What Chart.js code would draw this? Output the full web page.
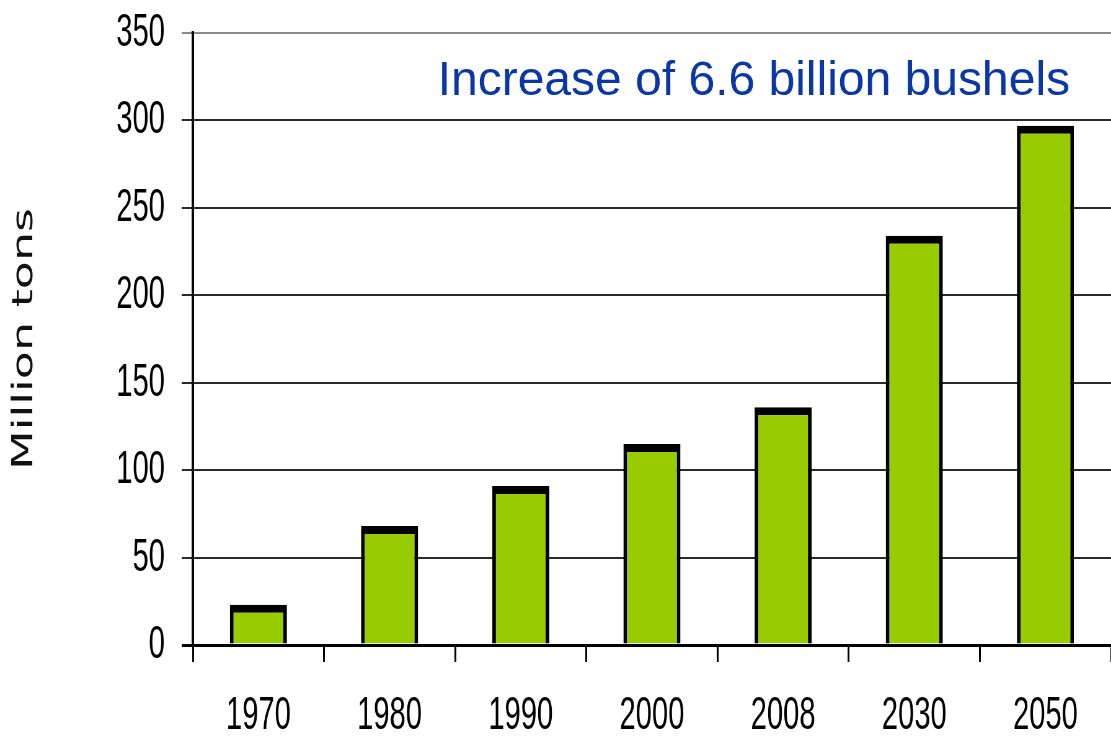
<!DOCTYPE html>
<html>
<head>
<meta charset="utf-8">
<script src="https://cdn.jsdelivr.net/npm/chart.js@4.4.1/dist/chart.umd.min.js"></script>
<style>
  html, body { margin: 0; padding: 0; overflow: hidden; background: #fff; }
  /* the whole plot is drawn wide and then squeezed horizontally */
  #wrap { width: 1792px; height: 739px; transform: scaleX(0.62); transform-origin: 0 0; }
</style>
</head>
<body>
<div id="wrap"><canvas id="myChart"></canvas></div>
<script>
const years = ['1970', '1980', '1990', '2000', '2008', '2030', '2050'];
const tons = [23, 68, 91, 115, 136, 234, 297];
const yTicks = [0, 50, 100, 150, 200, 250, 300, 350];
const axisTitle = 'Million tons';
const headline = 'Increase of 6.6 billion bushels';

const squeeze = 0.62;
const ctx = document.getElementById('myChart');

// blue note in the top right corner, drawn un-squeezed
const headlinePlugin = {
    id: 'headline',
    afterDraw(chart) {
        const c = chart.ctx;
        const area = chart.chartArea;
        c.save();
        c.scale(1 / squeeze, 1);
        c.font = '48px "Liberation Sans", Arial, sans-serif';
        c.fillStyle = '#0b37a6';
        c.textAlign = 'right';
        c.textBaseline = 'alphabetic';
        c.fillText(headline, area.right * squeeze - 41, area.top + 62);
        c.restore();
    }
};

new Chart(ctx, {
    type: 'bar',
    data: {
        labels: years,
        datasets: [{
            data: tons,
            backgroundColor: '#99cc00',
            borderColor: '#000',
            borderWidth: { top: 8, left: 6, right: 6, bottom: 0 },
            borderSkipped: 'start',
            barPercentage: 0.435,
            categoryPercentage: 1
        }]
    },
    options: {
        responsive: true,
        maintainAspectRatio: false,
        animation: false,
        layout: { padding: { top: 33, right: 0, bottom: 0, left: 0 } },
        plugins: {
            legend: { display: false },
            tooltip: { enabled: false }
        },
        scales: {
            x: {
                afterFit(scale) { scale.height = 94; },
                grid: {
                    offset: true,
                    drawOnChartArea: false,
                    drawTicks: true,
                    tickLength: 17,
                    color: '#000',
                    lineWidth: 3
                },
                border: { display: true, color: '#000', width: 3 },
                ticks: {
                    color: '#000',
                    padding: 26,
                    font: { family: '"Liberation Sans", Arial, sans-serif', size: 47 }
                }
            },
            y: {
                min: 0,
                max: 350,
                afterFit(scale) {
                    scale.width = 311;
                    // let the top tick label hang over the padding
                    scale.paddingTop = 0;
                    scale.paddingBottom = 0;
                },
                afterBuildTicks(scale) { scale.ticks = yTicks.map(v => ({ value: v })); },
                grid: {
                    tickLength: 18,
                    color: (c) => c.tick.value === 350 ? '#8a8a8a' : (c.tick.value === 0 ? '#000' : '#2a2a2a'),
                    lineWidth: (c) => c.tick.value === 0 ? 3 : 2
                },
                border: { display: true, color: '#000', width: 4 },
                ticks: {
                    color: '#000',
                    padding: 27,
                    font: { family: '"Liberation Sans", Arial, sans-serif', size: 47 }
                },
                title: {
                    display: true,
                    text: axisTitle,
                    color: '#111',
                    padding: { top: 12, bottom: 0 },
                    font: { family: '"DejaVu Sans", Verdana, sans-serif', size: 46 }
                }
            }
        }
    },
    plugins: [headlinePlugin]
});
</script>
</body>
</html>
